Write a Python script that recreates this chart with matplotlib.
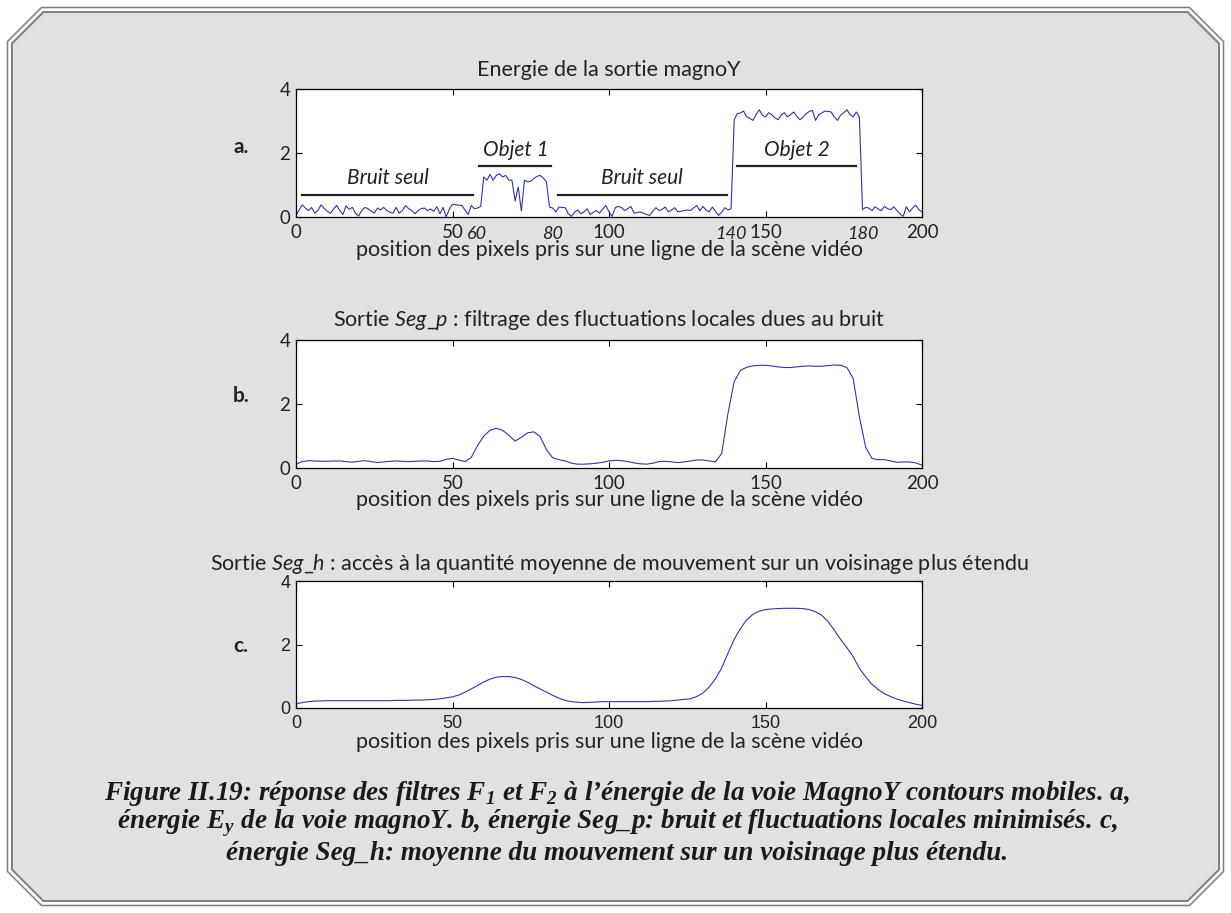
import numpy as np
import matplotlib.pyplot as plt
from matplotlib.patches import Polygon

# --- data ---
# a. energie de la sortie magnoY (one value per pixel, 0..200)
energie_y = [
    0.05, 0.22, 0.38, 0.28, 0.20, 0.30, 0.12, 0.20, 0.38, 0.27,
    0.18, 0.12, 0.25, 0.36, 0.20, 0.08, 0.35, 0.24, 0.30, 0.12,
    0.03, 0.20, 0.30, 0.26, 0.18, 0.12, 0.28, 0.22, 0.30, 0.20,
    0.15, 0.12, 0.30, 0.12, 0.20, 0.36, 0.26, 0.20, 0.10, 0.20,
    0.26, 0.28, 0.20, 0.25, 0.18, 0.32, 0.10, 0.30, 0.00, 0.25,
    0.40, 0.38, 0.37, 0.36, 0.22, 0.08, 0.36, 0.26, 0.28, 0.33,
    1.25, 1.15, 1.33, 1.15, 1.30, 1.35, 1.25, 1.30, 1.15, 1.15,
    0.50, 0.94, 0.19, 1.15, 1.10, 1.12, 1.20, 1.27, 1.30, 1.22,
    1.10, 0.31, 0.28, 0.16, 0.31, 0.30, 0.29, 0.10, 0.02, 0.15,
    0.22, 0.10, 0.16, 0.26, 0.08, 0.15, 0.20, 0.12, 0.25, 0.36,
    0.16, 0.02, 0.29, 0.33, 0.30, 0.20, 0.26, 0.33, 0.12, 0.14,
    0.16, 0.12, 0.08, 0.05, 0.18, 0.29, 0.20, 0.24, 0.31, 0.16,
    0.22, 0.29, 0.16, 0.18, 0.20, 0.22, 0.20, 0.28, 0.36, 0.20,
    0.33, 0.22, 0.16, 0.31, 0.18, 0.05, 0.15, 0.29, 0.22, 0.26,
    3.04, 3.23, 3.25, 3.31, 3.13, 3.08, 3.02, 3.20, 3.35, 3.18,
    3.13, 3.26, 3.20, 3.10, 3.04, 3.18, 3.26, 3.13, 3.20, 3.28,
    3.15, 3.04, 3.12, 3.23, 3.30, 3.33, 3.02, 3.20, 3.25, 3.31,
    3.30, 3.28, 3.12, 3.02, 3.18, 3.26, 3.35, 3.20, 3.13, 3.28,
    3.13, 0.23, 0.30, 0.28, 0.20, 0.32, 0.25, 0.20, 0.33, 0.26,
    0.23, 0.32, 0.20, 0.10, 0.02, 0.32, 0.16, 0.28, 0.37, 0.23,
    0.16,
]

# b. Seg_p and c. Seg_h, one value every 2 pixels
pos_2 = list(range(0, 201, 2))
seg_p = [
    0.12, 0.20, 0.23, 0.22, 0.21, 0.21, 0.22, 0.22, 0.20, 0.18,
    0.21, 0.23, 0.20, 0.17, 0.19, 0.21, 0.22, 0.21, 0.20, 0.21,
    0.22, 0.22, 0.20, 0.21, 0.27, 0.30, 0.25, 0.20, 0.33, 0.70,
    1.00, 1.18, 1.24, 1.18, 1.02, 0.84, 0.96, 1.10, 1.13, 0.98,
    0.58, 0.32, 0.26, 0.22, 0.15, 0.12, 0.12, 0.13, 0.15, 0.18,
    0.22, 0.24, 0.23, 0.20, 0.16, 0.13, 0.12, 0.15, 0.20, 0.21,
    0.19, 0.17, 0.19, 0.22, 0.25, 0.25, 0.22, 0.19, 0.45, 1.70,
    2.70, 3.05, 3.15, 3.19, 3.21, 3.21, 3.19, 3.16, 3.14, 3.14,
    3.16, 3.18, 3.19, 3.18, 3.18, 3.20, 3.22, 3.21, 3.14, 2.80,
    1.60, 0.65, 0.30, 0.26, 0.26, 0.22, 0.18, 0.19, 0.19, 0.16,
    0.09,
]
seg_h = [
    0.13, 0.17, 0.20, 0.22, 0.22, 0.23, 0.23, 0.23, 0.23, 0.23,
    0.23, 0.23, 0.23, 0.23, 0.23, 0.23, 0.24, 0.24, 0.24, 0.25,
    0.25, 0.26, 0.27, 0.29, 0.32, 0.35, 0.41, 0.50, 0.60, 0.71,
    0.82, 0.91, 0.97, 0.99, 0.99, 0.96, 0.90, 0.81, 0.70, 0.60,
    0.50, 0.40, 0.31, 0.24, 0.20, 0.18, 0.17, 0.18, 0.19, 0.20,
    0.20, 0.20, 0.20, 0.20, 0.20, 0.20, 0.20, 0.21, 0.21, 0.22,
    0.23, 0.25, 0.27, 0.29, 0.36, 0.47, 0.66, 0.92, 1.26, 1.72,
    2.16, 2.50, 2.78, 2.95, 3.05, 3.10, 3.12, 3.13, 3.14, 3.14,
    3.14, 3.13, 3.10, 3.03, 2.92, 2.72, 2.45, 2.16, 1.90, 1.62,
    1.25, 0.98, 0.75, 0.58, 0.45, 0.36, 0.28, 0.22, 0.17, 0.12,
    0.08,
]

x_ticks = [0, 50, 100, 150, 200]
y_ticks = [0, 2, 4]
extra_ticks = [60, 80, 140, 180]
extra_shift = [-2.3, 2.0, -1.0, 1.2]

# annotation bars in panel a: (start, end, level, label)
zones = [
    (2, 56.5, 0.70, "Bruit seul"),
    (58.6, 81.6, 1.58, "Objet 1"),
    (83.7, 137.6, 0.70, "Bruit seul"),
    (141, 179, 1.58, "Objet 2"),
]

titre_a = "Energie de la sortie magnoY"
titre_b = r"Sortie $\mathit{Seg\_p}$ : filtrage des fluctuations locales dues au bruit"
titre_c = r"Sortie $\mathit{Seg\_h}$ : accès à la quantité moyenne de mouvement sur un voisinage plus étendu"
xlabel = "position des pixels pris sur une ligne de la scène vidéo"
caption = [
    r"Figure II.19: réponse des filtres F$_{\mathbfit{1}}$ et F$_{\mathbfit{2}}$ à l’énergie de la voie MagnoY contours mobiles. a,",
    r"énergie E$_{\mathbfit{y}}$ de la voie magnoY. b, énergie Seg_p: bruit et fluctuations locales minimisés. c,",
    r"énergie Seg_h: moyenne du mouvement sur un voisinage plus étendu.",
]

W, H = 1231, 913
SANS = "Lato"
plt.rcParams["mathtext.fontset"] = "custom"
plt.rcParams["mathtext.rm"] = SANS
plt.rcParams["mathtext.it"] = SANS + ":italic"
plt.rcParams["mathtext.bfit"] = "Liberation Serif:italic:bold"

fig = plt.figure(figsize=(W / 100, H / 100), dpi=100, facecolor="white")

# background frame, pixel coordinates
bg = fig.add_axes([0, 0, 1, 1])
bg.set_xlim(0, W)
bg.set_ylim(H, 0)
bg.axis("off")
bg.set_zorder(-10)


def octagon(d, c):
    return [(d + c, d), (W - d - c, d), (W - d, d + c), (W - d, H - d - c),
            (W - d - c, H - d), (d + c, H - d), (d, H - d - c), (d, d + c)]


bg.add_patch(Polygon(octagon(7.5, 34), closed=True, fill=False,
                     edgecolor="#7d7d7d", lw=1.1))
bg.add_patch(Polygon(octagon(12, 31.4), closed=True, facecolor="#e1e1e1",
                     edgecolor="#7d7d7d", lw=1.4))

line_col = "#3434a6"
tick_col = "#222222"


def make_axes(top_px, bottom_px, tick_font, size):
    ax = fig.add_axes([296 / W, 1 - bottom_px / H, 626 / W, (bottom_px - top_px) / H])
    ax.set_facecolor("white")
    ax.set_xlim(0, 200)
    ax.set_ylim(0, 4)
    ax.set_xticks(x_ticks)
    ax.set_yticks(y_ticks)
    ax.tick_params(direction="in", top=True, right=True, length=4, width=0.8,
                   colors="black", labelcolor=tick_col, labelsize=size)
    ax.tick_params(axis="x", pad=5)
    ax.tick_params(axis="y", pad=4)
    for lab in ax.get_xticklabels() + ax.get_yticklabels():
        lab.set_family(tick_font)
    for s in ax.spines.values():
        s.set_linewidth(0.9)
    return ax


# a.
ax_a = make_axes(89, 217, SANS, 13.5)
ax_a.plot(np.arange(len(energie_y)), energie_y, color=line_col, lw=0.8)
for x0, x1, lev, lab in zones:
    ax_a.plot([x0, x1], [lev, lev], color="#222222", lw=1.6)
    ax_a.text((x0 + x1) / 2, lev + 0.2, lab, ha="center", va="bottom",
              fontsize=15, style="italic", family=SANS, color=tick_col)
for t, dx in zip(extra_ticks, extra_shift):
    ax_a.text(t + dx, -0.135, str(t), transform=ax_a.get_xaxis_transform(),
              ha="center", va="center", fontsize=13, style="italic", family=SANS,
              color=tick_col)

# b.
ax_b = make_axes(340, 468, SANS, 13.5)
ax_b.plot(pos_2, seg_p, color=line_col, lw=0.8)

# c.
ax_c = make_axes(581, 708, "Liberation Sans", 13)
ax_c.plot(pos_2, seg_h, color=line_col, lw=0.8)

# titles, axis labels, panel letters
for y, txt in [(70, titre_a), (320, titre_b)]:
    bg.text(609, y, txt, ha="center", va="center", fontsize=15.5, family=SANS,
            color=tick_col)
bg.text(619, 564, titre_c, ha="center", va="center", fontsize=15.5, family=SANS,
        color=tick_col)
for y in (250, 500, 742):
    bg.text(609, y, xlabel, ha="center", va="center", fontsize=15.5, family=SANS,
            color=tick_col)
for y, lab in [(147, "a."), (396, "b."), (646, "c.")]:
    bg.text(241, y, lab, ha="center", va="center", fontsize=15,
            weight="bold", family=SANS, color=tick_col)

for y, txt in zip((793, 823, 853), caption):
    bg.text(617, y, txt, ha="center", va="center", fontsize=19.5,
            family="Liberation Serif", style="italic", weight="bold",
            color="#1a1a1a")

fig.savefig("out.png", dpi=100, facecolor="white")
